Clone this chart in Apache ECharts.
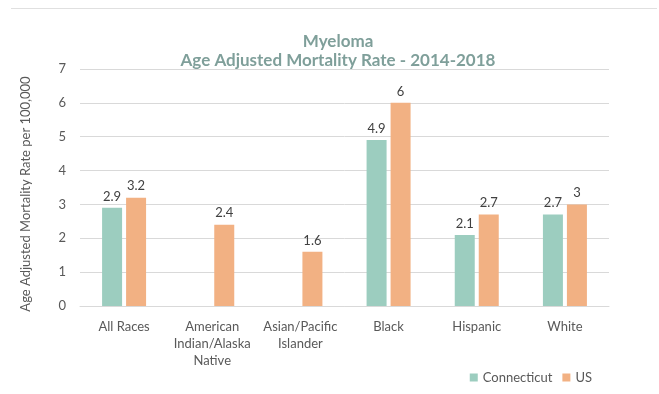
<!DOCTYPE html>
<html>
<head>
<meta charset="utf-8">
<script src="https://cdn.jsdelivr.net/npm/echarts@6/dist/echarts.min.js"></script>
<style>
  html, body { margin: 0; padding: 0; background: #fff; }
  #chart { width: 659px; height: 394px; }
</style>
</head>
<body>
<div id="chart"></div>
<script>
// Myeloma age-adjusted mortality, 2014-2018
const categories = ['All Races', 'American\nIndian/Alaska\nNative', 'Asian/Pacific\nIslander', 'Black', 'Hispanic', 'White'];
const connecticut = [2.9, null, null, 4.9, 2.1, 2.7];
const us = [3.2, 2.4, 1.6, 6, 2.7, 3];
const yTicks = [0, 1, 2, 3, 4, 5, 6, 7];

const FONT = 'Lato, "Open Sans", sans-serif';
const TEXT = '#595959';

const chart = echarts.init(document.getElementById('chart'), null, { renderer: 'canvas' });

const labelStyle = {
  show: true,
  position: 'top',
  distance: 5,
  color: '#404040',
  fontFamily: FONT,
  fontSize: 13
};

chart.setOption({
  animation: false,
  backgroundColor: '#fff',
  title: {
    text: 'Myeloma\nAge Adjusted Mortality Rate - 2014-2018',
    left: 333,
    textAlign: 'center',
    top: 27,
    textStyle: {
      color: '#7f9f9a',
      fontFamily: FONT,
      fontWeight: 'bold',
      fontSize: 17,
      lineHeight: 19
    }
  },
  graphic: [
    {
      type: 'line',
      shape: { x1: 11, y1: 8.5, x2: 657, y2: 8.5 },
      style: { stroke: '#e0e0e0', lineWidth: 1 }
    },
    {
      // rotated value-axis title
      type: 'text',
      x: 26,
      y: 194,
      rotation: Math.PI / 2,
      style: {
        text: 'Age Adjusted Mortality Rate per 100,000',
        fill: TEXT,
        font: '13px ' + FONT,
        align: 'center',
        verticalAlign: 'middle'
      }
    }
  ],
  legend: {
    right: 62,
    top: 366,
    itemWidth: 8,
    itemHeight: 8,
    itemGap: 10,
    icon: 'rect',
    textStyle: { color: TEXT, fontFamily: FONT, fontSize: 13 },
    data: ['Connecticut', 'US']
  },
  grid: { left: 80, right: 50, top: 69, bottom: 88 },
  xAxis: {
    type: 'category',
    data: categories,
    axisLine: { lineStyle: { color: '#d9d9d9' } },
    axisTick: { show: false },
    axisLabel: {
      color: TEXT,
      fontFamily: FONT,
      fontSize: 13,
      lineHeight: 17,
      margin: 12,
      interval: 0
    }
  },
  yAxis: {
    type: 'value',
    min: yTicks[0],
    max: yTicks[yTicks.length - 1],
    interval: 1,
    axisLine: { show: false },
    axisTick: { show: false },
    axisLabel: { color: TEXT, fontFamily: FONT, fontSize: 13, margin: 14 },
    splitLine: { lineStyle: { color: '#d9d9d9' } }
  },
  series: [
    {
      name: 'Connecticut',
      type: 'bar',
      data: connecticut,
      barWidth: 20,
      barGap: '20%',
      itemStyle: { color: '#9ccdbf' },
      label: labelStyle
    },
    {
      name: 'US',
      type: 'bar',
      data: us,
      barWidth: 20,
      itemStyle: { color: '#f2b183' },
      label: labelStyle
    }
  ]
});
</script>
</body>
</html>
